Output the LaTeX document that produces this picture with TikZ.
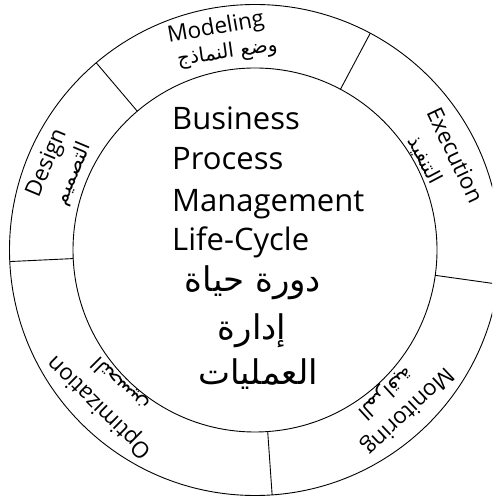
\documentclass[tikz,border=0pt]{standalone}
\usepackage{fontspec}
\setmainfont{Open Sans}
\newfontfamily\arabicfont[Script=Arabic]{DejaVu Sans}
\TeXXeTstate=1
\begin{document}
\begin{tikzpicture}[x=1pt,y=1pt,
  ringline/.style={line width=0.9pt},
  eng/.style={font=\fontsize{22.5}{26}\selectfont, inner sep=0pt},
  ara/.style={font=\arabicfont\fontsize{20}{24}\selectfont, inner sep=0pt},
  big/.style={font=\fontsize{31}{36}\selectfont, inner sep=0pt, anchor=base west},
  bigar/.style={font=\arabicfont\fontsize{34}{40}\selectfont, inner sep=0pt, anchor=base},
]
\useasboundingbox (0pt,0pt) rectangle (492pt,500pt);
\clip (0pt,0pt) rectangle (492pt,500pt);
\fill[white] (0pt,0pt) rectangle (492pt,500pt);
\coordinate (C) at (255pt,250pt);
\begin{scope}[shift={(255pt,250pt)}]
  \draw[ringline] (0pt,0pt) circle (245.5pt);
  \draw[ringline] (0pt,0pt) circle (182pt);
  \foreach \a/\k in {130.3/a,62/b,-8/c,-86/d,182.7/e} {
    \coordinate (i\k) at (\a:182pt);
    \coordinate (o\k) at (\a:245.5pt);
    \draw[ringline] (i\k) -- (o\k);
  }
  % Modeling
  \node[eng, rotate=10] (lmod) at (100:225pt) {Modeling};
  \node[ara, rotate=8] (amod) at (98:199pt) {\beginR وضع النماذج\endR};
  % Execution
  \node[eng, rotate=-64.7] (lexe) at (25.3:222pt) {Execution};
  \node[ara, rotate=-62.1] (aexe) at (27.9:192pt) {\beginR التنفيذ\endR};
  % Monitoring
  \node[eng, rotate=-136.5] (lmon) at (-46.5:221pt) {Monitoring};
  \node[ara, rotate=-137.6] (amon) at (-47.6:193pt) {\beginR المراقبة\endR};
  % Optimization
  \node[eng, rotate=135.4] (lopt) at (225.4:220pt) {Optimization};
  \node[ara, rotate=135] (aopt) at (225:190pt) {\beginR التحسين\endR};
  % Design
  \node[eng, rotate=67.3] (ldes) at (157.3:225pt) {Design};
  \node[ara, rotate=67.2] (ades) at (157.2:197pt) {\beginR التصميم\endR};
\end{scope}
% central title
\node[big] (t1) at (172pt,370pt) {Business};
\node[big] (t2) at (172pt,330pt) {Process};
\node[big] (t3) at (172pt,288pt) {Management};
\node[big] (t4) at (172pt,249pt) {Life-Cycle};
\node[bigar] (t5) at (253pt,208pt) {\beginR دورة حياة\endR};
\node[bigar] (t6) at (252pt,160pt) {\beginR إدارة\endR};
\node[bigar] (t7) at (258pt,115pt) {\beginR العمليات\endR};
\end{tikzpicture}
\end{document}
